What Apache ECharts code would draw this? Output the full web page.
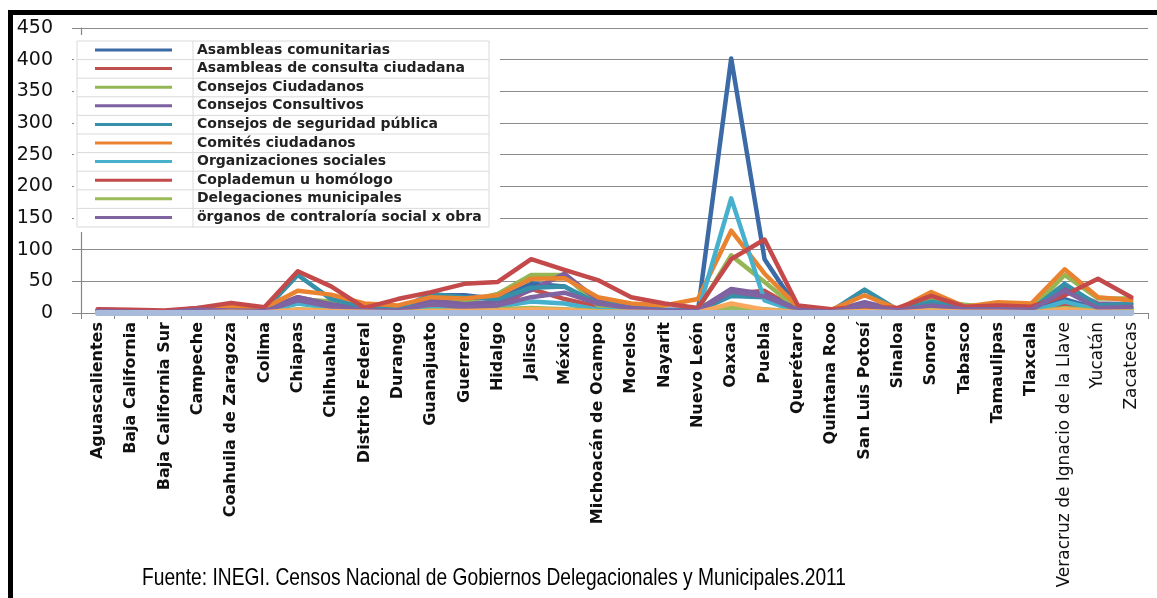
<!DOCTYPE html>
<html>
<head>
<meta charset="utf-8">
<script src="https://cdn.jsdelivr.net/npm/echarts@6/dist/echarts.min.js"></script>
<style>
  html, body { margin: 0; padding: 0; background: #fff; }
  #chart { width: 1157px; height: 598px; }
</style>
</head>
<body>
<div id="chart"></div>
<script>
// Estados
const estados = [
  'Aguascalientes', 'Baja California', 'Baja California Sur', 'Campeche',
  'Coahuila de Zaragoza', 'Colima', 'Chiapas', 'Chihuahua', 'Distrito Federal',
  'Durango', 'Guanajuato', 'Guerrero', 'Hidalgo', 'Jalisco', 'México',
  'Michoacán de Ocampo', 'Morelos', 'Nayarit', 'Nuevo León', 'Oaxaca', 'Puebla',
  'Querétaro', 'Quintana Roo', 'San Luis Potosí', 'Sinaloa', 'Sonora', 'Tabasco',
  'Tamaulipas', 'Tlaxcala', 'Veracruz de Ignacio de la Llave', 'Yucatán', 'Zacatecas'
];

// Mecanismos de participación ciudadana por estado
const asambleasComunitarias = [2,1,0,3,2,2,18,12,3,3,28,28,22,46,42,12,8,3,2,402,85,6,2,10,3,8,4,4,4,22,6,8];
const asambleasConsulta     = [3,2,1,3,6,4,25,14,5,6,12,14,10,38,22,10,6,4,2,30,35,5,2,10,3,20,8,8,5,12,10,8];
const consejosCiudadanos    = [2,1,1,3,4,3,22,18,6,5,15,18,30,60,60,12,6,4,5,91,49,6,3,14,4,20,13,8,6,60,23,23];
const consejosConsultivos   = [5,4,2,8,6,5,25,14,6,5,20,14,18,36,62,20,10,5,5,38,30,6,3,17,5,15,10,8,6,39,15,14];
const consejosSeguridad     = [3,2,1,5,6,4,60,22,10,6,30,25,22,40,42,15,12,5,3,27,25,5,3,37,5,18,8,6,5,46,12,15];
const comitesCiudadanos     = [4,3,2,6,10,8,35,29,15,12,25,23,28,54,55,25,15,12,22,130,62,10,5,28,6,33,10,17,15,69,25,20];
const organizacionesSociales= [1,0,0,2,3,2,15,8,3,2,6,8,10,18,15,5,3,2,0,181,20,2,1,5,2,4,2,3,2,18,5,5];
const coplademun            = [6,5,4,8,16,9,66,42,8,22,33,46,49,85,68,52,25,15,8,85,116,12,6,10,8,27,10,12,10,28,54,25];
const delegacionesMunicipales=[1,0,0,1,2,1,6,4,2,1,4,4,6,8,6,3,2,1,1,8,6,2,1,3,1,5,3,2,1,8,3,3];
const organosContraloria    = [3,2,1,5,4,3,20,10,4,4,14,9,12,25,32,15,8,4,3,34,26,5,2,12,4,12,6,6,5,35,8,10];
const serie11               = [1,1,0,1,2,1,5,3,2,1,3,3,4,6,5,2,2,1,1,15,5,1,1,3,1,4,2,2,1,6,2,2];
const serie12               = [0,0,0,0,0,0,0,0,0,0,0,0,0,0,0,0,0,0,0,0,0,0,0,0,0,0,0,0,0,0,0,0];

const fuente = 'Fuente: INEGI. Censos Nacional de Gobiernos Delegacionales y Municipales.2011';

const seriesDefs = [
  { name: 'Asambleas comunitarias', data: asambleasComunitarias, color: '#3B6AA6' },
  { name: 'Asambleas de consulta ciudadana', data: asambleasConsulta, color: '#C0504D' },
  { name: 'Consejos Ciudadanos', data: consejosCiudadanos, color: '#94B654' },
  { name: 'Consejos Consultivos', data: consejosConsultivos, color: '#7D60A0' },
  { name: 'Consejos de seguridad pública', data: consejosSeguridad, color: '#3590A8' },
  { name: 'Comités ciudadanos', data: comitesCiudadanos, color: '#E9832F' },
  { name: 'Organizaciones sociales', data: organizacionesSociales, color: '#47B1CD' },
  { name: 'Coplademun u homólogo', data: coplademun, color: '#C4494A' },
  { name: 'Delegaciones municipales', data: delegacionesMunicipales, color: '#9BBB59' },
  { name: 'örganos de contraloría social x obras', data: organosContraloria, color: '#8064A2' },
  { name: 'Serie 11', data: serie11, color: '#F9A75B' },
  { name: 'Serie 12', data: serie12, color: '#A9BBDA', width: 6 }
];
const legendNames = seriesDefs.slice(0, 10).map(s => s.name);

// Labels of the last states are set in a lighter face
const lightLabels = new Set(['Veracruz de Ignacio de la Llave', 'Yucatán', 'Zacatecas']);

// Source line: stretch to its column width
const ctx = document.createElement('canvas').getContext('2d');
ctx.font = '24px "Liberation Sans"';
const fuenteScale = 704 / ctx.measureText(fuente).width;

// Legend table frame
const legBox = { x: 77, y: 41, w: 412, rowH: 18.6, rows: 10, split: 193 };
const tableLines = [];
for (let k = 0; k <= legBox.rows; k++) {
  const y = legBox.y + k * legBox.rowH;
  tableLines.push({ type: 'line', z: 5, silent: true,
    shape: { x1: legBox.x, y1: y, x2: legBox.x + legBox.w, y2: y },
    style: { stroke: '#dadada', lineWidth: 1 } });
}
[legBox.x, legBox.split, legBox.x + legBox.w].forEach(x => {
  tableLines.push({ type: 'line', z: 5, silent: true,
    shape: { x1: x, y1: legBox.y, x2: x, y2: legBox.y + legBox.rows * legBox.rowH },
    style: { stroke: '#dadada', lineWidth: 1 } });
});

const chart = echarts.init(document.getElementById('chart'), null, { renderer: 'canvas' });
chart.setOption({
  animation: false,
  backgroundColor: '#fff',
  grid: { left: 81, right: 9, top: 28, bottom: 285 },
  legend: {
    data: legendNames,
    orient: 'vertical',
    left: 95, top: 41,
    padding: 0,
    itemWidth: 77, itemHeight: 3, itemGap: 0.6,
    icon: 'rect',
    selectedMode: false,
    z: 4,
    textStyle: {
      fontFamily: 'DejaVu Sans', fontWeight: 'bold', fontSize: 14, color: '#222',
      lineHeight: 18, padding: [0, 0, 0, 20],
      width: 290, overflow: 'truncate', ellipsis: ''
    }
  },
  xAxis: {
    type: 'category',
    data: estados,
    boundaryGap: true,
    axisLine: { show: true, lineStyle: { color: '#868686', width: 1.2 } },
    axisTick: { show: true, length: 6, interval: 0, lineStyle: { color: '#868686' } },
    axisLabel: {
      interval: 0, rotate: 90, margin: 9,
      fontFamily: 'DejaVu Sans', fontWeight: 'bold', fontSize: 16, color: '#111',
      formatter: v => lightLabels.has(v) ? '{n|' + v + '}' : v,
      rich: { n: { fontFamily: 'DejaVu Sans', fontWeight: 'normal', fontSize: 17, color: '#111' } }
    },
    splitLine: { show: false }
  },
  yAxis: {
    type: 'value', min: 0, max: 450, interval: 50,
    axisLine: { show: true, lineStyle: { color: '#868686', width: 1.2 } },
    axisTick: { show: true, length: 9, lineStyle: { color: '#868686' } },
    axisLabel: { fontFamily: 'DejaVu Sans', fontSize: 19, color: '#111', margin: 28 },
    splitLine: { show: true, lineStyle: { color: '#8c8c8c', width: 1.2 } }
  },
  series: seriesDefs.map(s => ({
    name: s.name,
    type: 'line',
    data: s.data,
    symbol: 'none',
    color: s.color,
    lineStyle: { width: s.width || 4.5, color: s.color, cap: 'round', join: 'round' },
    emphasis: { disabled: true }
  })),
  graphic: [
    // page frame
    { type: 'rect', z: 10, silent: true, shape: { x: 8, y: 10, width: 1149, height: 5 }, style: { fill: '#000' } },
    { type: 'rect', z: 10, silent: true, shape: { x: 8, y: 10, width: 5, height: 588 }, style: { fill: '#000' } },
    // legend panel
    { type: 'rect', z: 3, silent: true, shape: { x: 74, y: 35, width: 426, height: 197 }, style: { fill: '#fff' } },
    ...tableLines,
    // source
    { type: 'text', z: 10, silent: true, x: 142, y: 578, scaleX: fuenteScale,
      style: { text: fuente, font: '24px "Liberation Sans"', fill: '#000', verticalAlign: 'middle', align: 'left' } }
  ]
});
</script>
</body>
</html>
